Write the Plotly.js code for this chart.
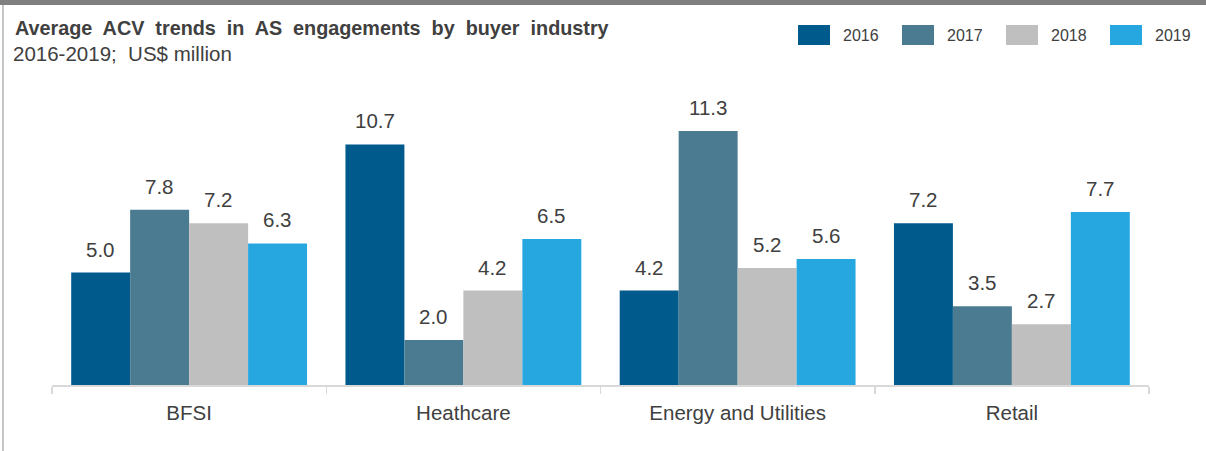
<!DOCTYPE html>
<html>
<head>
<meta charset="utf-8">
<script src="https://cdn.plot.ly/plotly-3.0.1.min.js"></script>
<style>
  html, body { margin: 0; padding: 0; background: #fff; }
  #wrap { position: relative; width: 1206px; height: 451px; overflow: hidden; }
  #chart { width: 1206px; height: 451px; }
  #topbar { position: absolute; left: 0; top: 0; width: 1206px; height: 5px; background: #808080; }
  #leftbar { position: absolute; left: 2px; top: 5px; width: 2px; height: 446px; background: #c6c6c6; }
</style>
</head>
<body>
<div id="wrap">
  <div id="chart"></div>
  <div id="topbar"></div>
  <div id="leftbar"></div>
</div>
<script>
// ---- data ----
const categories = ["BFSI", "Heathcare", "Energy and Utilities", "Retail"];
const seriesNames = ["2016", "2017", "2018", "2019"];
const values2016 = [5.0, 10.7, 4.2, 7.2];
const values2017 = [7.8, 2.0, 11.3, 3.5];
const values2018 = [7.2, 4.2, 5.2, 2.7];
const values2019 = [6.3, 6.5, 5.6, 7.7];
const seriesColors = ["#005A8C", "#4B7B90", "#BFBFBF", "#27A7E0"];
const titleText = "Average  ACV  trends  in  AS  engagements  by  buyer  industry";
const subtitleText = "2016-2019;  US$ million";

const allValues = [values2016, values2017, values2018, values2019];

// ---- layout geometry ----
const W = 1206, H = 451;
const M = { l: 52, r: 57, t: 104, b: 66 };
const plotW = W - M.l - M.r, plotH = H - M.t - M.b;
const bargap = 0.14;
const barPx = (plotW / categories.length) * (1 - bargap) / seriesNames.length;
const px = x => (x - M.l) / plotW;          // pixel -> paper x
const py = y => (H - M.b - y) / plotH;       // pixel -> paper y
const textColor = "#404040";
const fontFam = "Liberation Sans, Arial, sans-serif";

const traces = seriesNames.map((name, j) => ({
  type: "bar",
  name: name,
  x: categories,
  y: allValues[j],
  marker: { color: seriesColors[j], line: { width: 0 } },
  hoverinfo: "x+y+name",
  showlegend: false
}));

const annotations = [];
// data labels
allValues.forEach((vals, j) => {
  vals.forEach((v, i) => {
    annotations.push({
      x: categories[i], y: v, xref: "x", yref: "y",
      text: v.toFixed(1), showarrow: false,
      xanchor: "center", yanchor: "bottom",
      xshift: (j - (seriesNames.length - 1) / 2) * barPx,
      yshift: 10,
      font: { size: 20.5, color: textColor, family: fontFam }
    });
  });
});
// subtitle
annotations.push({
  xref: "paper", yref: "paper", x: px(11), y: py(40),
  xanchor: "left", yanchor: "top", showarrow: false,
  text: subtitleText,
  font: { size: 20.5, color: textColor, family: fontFam }
});
// legend (custom swatches)
const shapes = [];
seriesNames.forEach((name, j) => {
  const x0 = 798 + j * 104;
  shapes.push({
    type: "rect", xref: "paper", yref: "paper",
    x0: px(x0), x1: px(x0 + 32), y0: py(45), y1: py(25),
    fillcolor: seriesColors[j], line: { width: 0 }
  });
  annotations.push({
    xref: "paper", yref: "paper", x: px(x0 + 43), y: py(36),
    xanchor: "left", yanchor: "middle", showarrow: false,
    text: name, font: { size: 16, color: textColor, family: fontFam }
  });
});

const layout = {
  width: W, height: H,
  margin: M,
  paper_bgcolor: "#ffffff",
  plot_bgcolor: "#ffffff",
  barmode: "group",
  bargap: bargap,
  bargroupgap: 0,
  showlegend: false,
  font: { family: fontFam, color: textColor },
  title: {
    text: "<b>" + titleText + "</b>",
    xref: "container", yref: "container",
    x: 15 / W, xanchor: "left",
    y: 1 - 21 / H, yanchor: "top",
    font: { size: 19.8, color: textColor, family: fontFam }
  },
  xaxis: {
    type: "category",
    showline: true, linecolor: "#D9D9D9", linewidth: 1.5,
    ticks: "outside", tickson: "boundaries", ticklen: 7,
    tickcolor: "#D9D9D9", tickwidth: 1.5,
    ticklabelstandoff: 9,
    tickfont: { size: 20.5, color: textColor, family: fontFam },
    showgrid: false, zeroline: false,
    fixedrange: true
  },
  yaxis: {
    range: [0, 12.5],
    visible: false,
    showgrid: false, zeroline: false,
    fixedrange: true
  },
  annotations: annotations,
  shapes: shapes
};

Plotly.newPlot("chart", traces, layout, { displayModeBar: false, staticPlot: true });
</script>
</body>
</html>
